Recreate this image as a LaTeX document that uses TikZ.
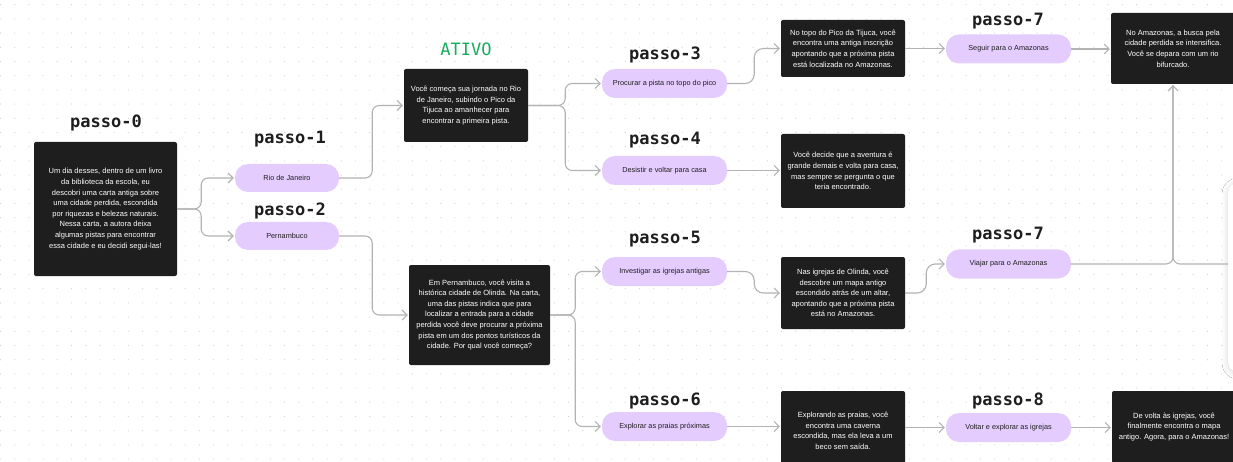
\documentclass[tikz,border=0pt]{standalone}
\usepackage{fontspec}
\setmainfont{Liberation Sans}
\newfontfamily\titlemono{DejaVu Sans Mono}
\usetikzlibrary{arrows.meta,shadows.blur}

\definecolor{scenebg}{HTML}{1E1E1E}
\definecolor{choicebg}{HTML}{E4CCFF}
\definecolor{linkgray}{HTML}{B3B3B3}
\definecolor{dotgray}{HTML}{D2D2D2}
\definecolor{activegreen}{HTML}{14AE5C}
\definecolor{inkdark}{HTML}{1E1E1E}

\tikzset{
  scene/.style={fill=scenebg, text=white, rounded corners=2pt, inner sep=0pt,
    align=center, font=\fontsize{7.5}{10.6}\selectfont},
  choice/.style={fill=choicebg, text=inkdark, rounded corners=13pt,
    minimum width=125pt, minimum height=29pt, inner sep=0pt,
    font=\fontsize{7.3}{9}\selectfont},
  steplabel/.style={anchor=base, inner sep=0pt, text=inkdark,
    font=\titlemono\bfseries\fontsize{17}{17}\selectfont},
  link/.style={draw=linkgray, line width=1.1pt, rounded corners=7pt,
    -{Straight Barb[length=5pt,width=10pt]}, shorten >=1pt},
}

\begin{document}
\begin{tikzpicture}[x=1pt, y=-1pt]

    %% Canvas with dot grid
    \useasboundingbox (0,0) rectangle (1233,462);
    \fill[white] (0,0) rectangle (1233,462);
    \foreach \i in {0,...,86}
      \foreach \j in {0,...,32}
        \fill[dotgray] (0.5+14.2*\i, 4.7+14.2*\j) circle (0.6);

    %% Step titles
    \node[steplabel] (lbl0) at (106,128) {passo-0};
    \node[steplabel] (lbl1) at (290,143.5) {passo-1};
    \node[steplabel] (lbl2) at (290,215.5) {passo-2};
    \node[steplabel, text=activegreen, font=\titlemono\fontsize{17}{17}\selectfont] (ativo) at (466,56) {ATIVO};
    \node[steplabel] (lbl3) at (665,60) {passo-3};
    \node[steplabel] (lbl4) at (665,145) {passo-4};
    \node[steplabel] (lbl5) at (665,243.5) {passo-5};
    \node[steplabel] (lbl6) at (665,405.5) {passo-6};
    \node[steplabel] (lbl7a) at (1008,25.5) {passo-7};
    \node[steplabel] (lbl7b) at (1008,239.5) {passo-7};
    \node[steplabel] (lbl8) at (1008,405.5) {passo-8};

    %% Scenes
    \node[scene, minimum width=143pt, minimum height=134pt] (inicio) at (105.5,209)
      {Um dia desses, dentro de um livro\\da biblioteca da escola, eu\\descobri uma carta antiga sobre\\uma cidade perdida, escondida\\por riquezas e belezas naturais.\\Nessa carta, a autora deixa\\algumas pistas para encontrar\\essa cidade e eu decidi segui-las!};
    \node[scene, minimum width=124pt, minimum height=73pt] (comeca) at (466,105.5)
      {Você começa sua jornada no Rio\\de Janeiro, subindo o Pico da\\Tijuca ao amanhecer para\\encontrar a primeira pista.};
    \node[scene, minimum width=124pt, minimum height=57pt] (topo) at (843,48.5)
      {No topo do Pico da Tijuca, você\\encontra uma antiga inscrição\\apontando que a próxima pista\\está localizada no Amazonas.};
    \node[scene, minimum width=124pt, minimum height=74pt] (decide) at (843,171)
      {Você decide que a aventura é\\grande demais e volta para casa,\\mas sempre se pergunta o que\\teria encontrado.};
    \node[scene, minimum width=124pt, minimum height=71pt] (amazonas) at (1173,48.5)
      {No Amazonas, a busca pela\\cidade perdida se intensifica.\\Você se depara com um rio\\bifurcado.};
    \node[scene, minimum width=141pt, minimum height=100pt] (olinda) at (479.5,315)
      {Em Pernambuco, você visita a\\histórica cidade de Olinda. Na carta,\\uma das pistas indica que para\\localizar a entrada para a cidade\\perdida você deve procurar a próxima\\pista em um dos pontos turísticos da\\cidade. Por qual você começa?};
    \node[scene, minimum width=124pt, minimum height=72pt] (mapa) at (843,293)
      {Nas igrejas de Olinda, você\\descobre um mapa antigo\\escondido atrás de um altar,\\apontando que a próxima pista\\está no Amazonas.};
    \node[scene, minimum width=124pt, minimum height=80pt] (caverna) at (843,431)
      {Explorando as praias, você\\encontra uma caverna\\escondida, mas ela leva a um\\beco sem saída.};
    \node[scene, minimum width=124pt, minimum height=72pt] (volta) at (1174,427)
      {De volta às igrejas, você\\finalmente encontra o mapa\\antigo. Agora, para o Amazonas!};

    %% Choices
    \node[choice, minimum width=104pt, minimum height=28pt] (rio) at (287,178) {Rio de Janeiro};
    \node[choice, minimum width=104pt, minimum height=28pt] (pern) at (287,236) {Pernambuco};
    \node[choice] (pico) at (664.5,83.5) {Procurar a pista no topo do pico};
    \node[choice] (desistir) at (664.5,170.5) {Desistir e voltar para casa};
    \node[choice] (seguir) at (1008.5,49) {Seguir para o Amazonas};
    \node[choice] (igrejas) at (664.5,271.5) {Investigar as igrejas antigas};
    \node[choice] (viajar) at (1008.5,264) {Viajar para o Amazonas};
    \node[choice] (praias) at (664.5,426.5) {Explorar as praias próximas};
    \node[choice] (voltar) at (1008.5,427.5) {Voltar e explorar as igrejas};

    % Panel cut by the right edge
    \node[fill=white, rounded corners=10pt, minimum width=80pt, minimum height=189pt,
      blur shadow={shadow xshift=0pt, shadow yshift=-1pt, shadow blur radius=6pt, shadow opacity=16}]
      (painel) at (1268,277.5) {};

    %% Links
    \draw[link] (inicio.east) -- ++(24,0) |- (rio.west);
    \draw[link] (inicio.east) -- ++(24,0) |- (pern.west);
    \draw[link] (rio.east) -- ++(33,0) |- (comeca.west);
    \draw[link] (pern.east) -- ++(33,0) |- (olinda.west);
    \draw[link] (comeca.east) -- ++(37,0) |- (pico.west);
    \draw[link] (comeca.east) -- ++(37,0) |- (desistir.west);
    \draw[link, rounded corners=9pt] (pico.east) -- ++(27,0) |- (topo.west);
    \draw[link] (desistir.east) -- (desistir.east -| decide.west);
    \draw[link] (topo.east) -- (topo.east -| seguir.west);
    \draw[link] (seguir.east) -- (seguir.east -| amazonas.west);
    \draw[link] (olinda.east) -- ++(25,0) |- (igrejas.west);
    \draw[link] (olinda.east) -- ++(25,0) |- (praias.west);
    \draw[link, rounded corners=9pt] (igrejas.east) -- ++(27,0) |- (mapa.west);
    \draw[link, rounded corners=9pt] (mapa.east) -- ++(21,0) |- (viajar.west);
    \draw[link] (praias.east) -- (praias.east -| caverna.west);
    \draw[link] (voltar.west -| caverna.east) -- (voltar.west);
    \draw[link] (voltar.east) -- (voltar.east -| volta.west);
    \draw[link] (viajar.east) -| (amazonas.south);
    \draw[link, -] (painel.west |- viajar.east) -| (amazonas.south);

\end{tikzpicture}
\end{document}
